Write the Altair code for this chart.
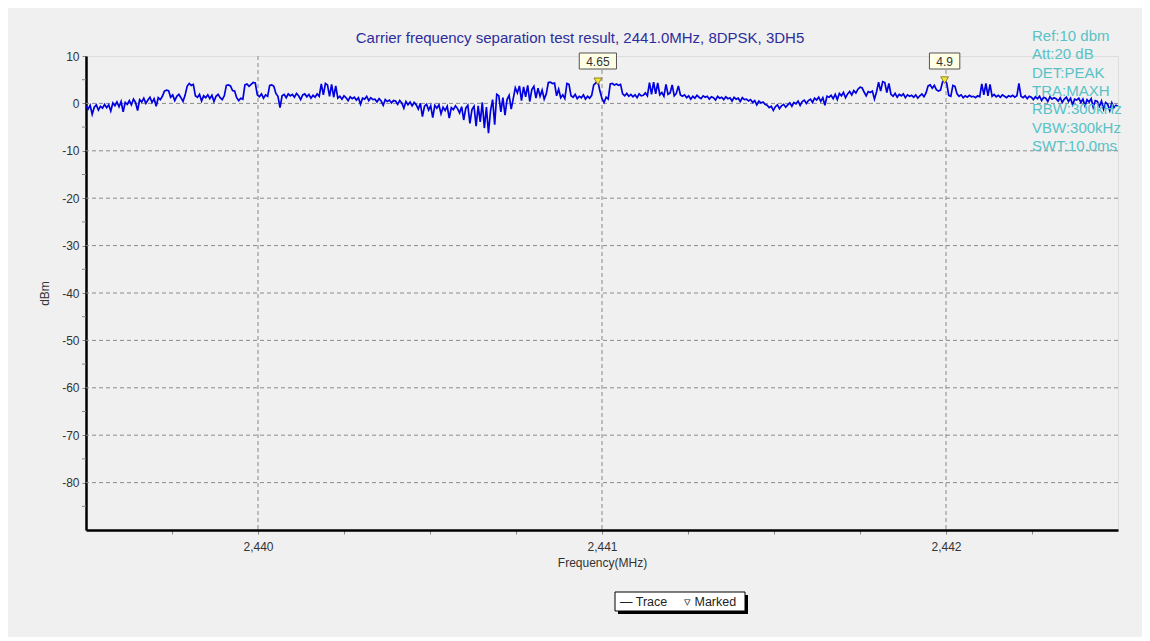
import altair as alt
import pandas as pd

# ---------------- data ----------------
TITLE = "Carrier frequency separation test result, 2441.0MHz, 8DPSK, 3DH5"
TRACE_START = 2439.5   # MHz, first sweep point
TRACE_STEP = 0.006     # MHz between sweep points

trace_dbm = [
    -0.6, -1.2, -0.4, -2.3, -0.8, -0.3, -1.4, -0.6, -1.0, -0.2,
    -0.9, -0.3, -1.6, 0.1, -0.5, 0.3, -0.7, 0.4, -1.8, 0.2,
    -0.2, 0.6, -0.3, 0.9, 0.2, -1.5, 0.8, 0.3, 1.1, 0.0,
    0.7, 1.3, 0.2, 1.0, -0.6, 1.2, 0.8, 1.5, 2.6, 2.8,
    2.7, 1.3, 1.8, 0.6, 1.5, 1.9, 1.2, 0.4, 1.7, 3.6,
    4.2, 3.8, 4.0, 1.6, 1.3, 1.9, 0.5, 1.6, 1.2, 1.8,
    1.0, 1.7, 0.4, 1.5, 1.9, 1.2, 0.8, 1.6, 3.8, 3.9,
    3.7, 2.7, 2.6, 1.2, 0.6, 1.1, 0.9, 3.9, 4.1, 3.6,
    4.0, 4.4, 4.3, 1.8, 1.4, 2.0, 1.1, 1.8, 1.5, 3.8,
    3.9, 3.6, 2.1, 1.5, -0.9, 1.6, 1.9, 1.2, 2.0, 1.6,
    1.9, 1.3, 2.1, 1.6, 0.8, 1.8, 2.0, 1.4, 1.9, 1.1,
    1.7, 1.3, 2.0, 1.5, 4.1, 1.8, 4.2, 3.9, 1.5, 4.0,
    1.3, 3.7, 1.1, 1.5, 0.9, 1.6, 1.2, 0.6, 1.4, 1.0,
    1.3, 0.7, 1.2, -0.2, 1.1, 0.9, 1.5, 0.6, 1.2, 0.8,
    0.9, 0.3, 1.0, 0.5, -0.4, 0.8, 0.4, 0.7, 0.1, 0.6,
    0.5, -0.2, 0.6, 0.1, -1.0, 0.4, -0.3, 0.3, -0.5, 0.2,
    -0.3, -1.2, 0.0, -2.8, -0.6, -0.2, -1.4, -0.5, -3.0, -0.4,
    -1.0, -0.3, -2.2, -0.8, -1.5, -0.6, -3.1, -0.9, -1.3, -0.5,
    -1.1, -2.0, -0.7, -3.5, -1.0, -0.4, -4.2, -1.3, -0.6, -4.8,
    -0.5, -3.9, 0.2, -5.2, -0.8, -6.3, -1.5, 0.8, -4.5, 1.9,
    1.6, -1.8, 1.2, -2.5, 0.8, 1.7, -1.2, 1.0, 3.3, 2.2,
    3.7, 0.6, 3.5, 1.4, 3.8, 0.4, 2.9, 3.6, 1.1, 3.2,
    1.5, 2.8, 0.9, 2.0, 4.4, 4.5, 4.2, 4.3, 1.6, 3.0,
    1.2, 1.8, 1.0, 4.2, 4.0, 1.6, 1.3, 1.9, 1.0, 1.5,
    1.2, 1.8, 0.9, 1.5, 1.1, 1.7, 3.9, 4.3, 4.65, 2.6,
    1.0, 0.2, 1.3, 0.9, 4.1, 4.2, 3.9, 4.1, 3.8, 4.0,
    2.0, 1.6, 2.1, 1.5, 1.9, 1.4, 1.8, 1.2, 2.0, 1.6,
    1.7, 2.2, 1.6, 4.4, 1.9, 4.5, 2.0, 4.3, 1.8, 2.3,
    1.5, 4.0, 1.9, 2.2, 3.9, 1.6, 2.1, 3.7, 1.8, 1.5,
    1.8, 1.2, 1.6, 0.9, 1.5, 1.1, 1.7, 1.3, 1.0, 1.6,
    1.3, 1.5, 0.9, 1.4, 1.2, 0.7, 1.5, 1.1, 1.3, 0.8,
    1.4, 1.0, 1.2, 0.5, 1.3, 0.9, 1.1, 0.4, 1.2, 0.8,
    0.9, 0.5, 0.8, 0.2, 0.6, -0.3, 0.5, 0.1, 0.3, -0.2,
    -0.4, -0.9, -0.6, -1.5, -0.7, -0.3, -1.1, -0.5, -0.2, -0.8,
    -0.3, 0.1, -0.6, 0.2, -0.1, 0.5, -0.4, 0.4, 0.7, 0.0,
    0.6, 0.9, 0.2, 1.1, 0.7, 1.3, 0.4, 1.2, -0.4, 1.5,
    1.3, 1.7, 1.0, 1.9, 0.8, 2.1, 1.6, 2.3, 1.2, 2.0,
    2.5, 1.8, 2.7, 2.2, 3.0, 3.4, 3.3, 2.4, 1.6, 2.5,
    2.3, 2.6, 0.9, 2.4, 4.5, 2.6, 4.6, 4.4, 2.3, 4.2,
    1.9, 1.5, 2.1, 1.3, 1.9, 1.6, 2.0, 1.2, 1.8, 1.5,
    1.7, 1.3, 1.8, 1.1, 1.6, 2.0, 1.4, 2.2, 3.7, 3.9,
    3.2, 3.8, 2.9, 2.6, 2.8, 4.5, 4.9, 4.3, 1.7, 1.5,
    3.8, 3.6, 2.0, 1.5, 1.8, 1.2, 1.6, 1.3, 1.7, 1.4,
    1.5, 1.2, 1.6, 1.4, 4.1, 1.8, 4.2, 1.6, 4.0, 1.5,
    1.9, 1.4, 1.7, 1.3, 1.8, 1.5, 1.2, 1.6, 1.4, 1.7,
    1.3, 1.6, 4.2, 1.5, 1.2, 1.6, 1.0, 1.5, 1.3, 0.8,
    1.4, 1.0, 1.5, 0.6, 1.3, 1.1, 0.4, 1.4, 0.9, 1.2,
    1.0, 0.5, 1.2, 0.2, 0.9, 1.3, 0.4, 1.1, -0.3, 0.9,
    0.7, 1.1, 0.2, 0.9, -0.5, 0.8, 0.3, 1.0, -0.8, 0.6,
    0.4, -0.6, 0.5, -1.2, 0.2, -0.2, -1.5, 0.1, -0.9, -0.4,
    -0.6,
]

marker_freq = [2440.988, 2441.996]
marker_dbm = [4.65, 4.9]
marker_label = ["4.65", "4.9"]

x_grid = [2440, 2441, 2442]
y_grid = [0, -10, -20, -30, -40, -50, -60, -70, -80]
x_ticks = [2439.75, 2440, 2440.25, 2440.5, 2440.75, 2441, 2441.25,
           2441.5, 2441.75, 2442, 2442.25]
y_labels = [10, 0, -10, -20, -30, -40, -50, -60, -70, -80]
y_minor = [5, -5, -15, -25, -35, -45, -55, -65, -75, -85]

info_lines = ["Ref:10 dbm", "Att:20 dB", "DET:PEAK", "TRA:MAXH",
              "RBW:300kHz", "VBW:300kHz", "SWT:10.0ms"]
legend_trace = "\u2014 Trace"
legend_marked = "\u25bf Marked"

# ---------------- layout ----------------
W, H = 1032, 474
FONT = "Liberation Sans"
PX_PER_MHZ = W / 3.0
XT = "Frequency(MHz)"
YT = "dBm"

xscale = alt.Scale(domain=[2439.5, 2442.5], nice=False, zero=False)
yscale = alt.Scale(domain=[-90, 10], nice=False, zero=False)

trace_df = pd.DataFrame({
    "f": [TRACE_START + i * TRACE_STEP for i in range(len(trace_dbm))],
    "dbm": trace_dbm,
})
marker_df = pd.DataFrame({"f": marker_freq, "dbm": marker_dbm, "label": marker_label})
one = pd.DataFrame({"k": [0]})

x_axis = alt.Axis(
    values=x_ticks,
    labelExpr="datum.value % 1 == 0 ? format(datum.value, ',') : ''",
    title=XT, grid=False,
    domainColor="black", domainWidth=2.5,
    tickColor="#888", tickSize=4, tickWidth=1,
    labelFontSize=12, labelColor="#333", labelPadding=7,
    labelOverlap=False, labelFlush=False,
    titleFontSize=12, titleFontWeight="normal", titleColor="#333", titlePadding=5,
)
y_axis = alt.Axis(
    values=y_labels, format="d",
    title=YT, grid=False,
    domainColor="black", domainWidth=2.5,
    tickColor="#888", tickSize=4, tickWidth=1,
    labelFontSize=12, labelColor="#333", labelPadding=3,
    labelOverlap=False, labelFlush=False,
    titleFontSize=12, titleFontWeight="normal", titleColor="#333", titlePadding=10,
)

grid_v = alt.Chart(pd.DataFrame({"f": x_grid})).mark_rule(
    color="#8a8a8a", strokeDash=[4, 3], strokeWidth=1
).encode(x=alt.X("f:Q", scale=xscale, axis=x_axis, title=XT))

grid_h = alt.Chart(pd.DataFrame({"dbm": y_grid})).mark_rule(
    color="#8a8a8a", strokeDash=[4, 3], strokeWidth=1
).encode(y=alt.Y("dbm:Q", scale=yscale, axis=y_axis, title=YT))

minor_y = alt.Chart(pd.DataFrame({"dbm": y_minor})).mark_rule(
    color="#888", strokeWidth=1
).encode(y=alt.Y("dbm:Q", scale=yscale, title=YT), x=alt.value(-4), x2=alt.value(0))

trace = alt.Chart(trace_df).mark_line(color="#0000e0", strokeWidth=1.7).encode(
    x=alt.X("f:Q", scale=xscale, title=XT),
    y=alt.Y("dbm:Q", scale=yscale, title=YT),
)

title_mark = alt.Chart(one).mark_text(
    align="center", baseline="middle", font=FONT, fontSize=15, color="#2c2c9c",
).encode(x=alt.value(494), y=alt.value(-18), text=alt.value(TITLE))

info = alt.Chart(one).mark_text(
    align="left", baseline="middle", font=FONT, fontSize=15,
    lineHeight=18.3, color="#58c2c6",
).encode(x=alt.value(946), y=alt.value(-20), text=alt.value(info_lines))

markers = alt.Chart(marker_df).mark_point(
    shape="triangle-down", filled=True, fill="#f3e33c", stroke="#7a6a00",
    strokeWidth=0.8, size=60, opacity=1,
).encode(x=alt.X("f:Q", scale=xscale, title=XT), y=alt.Y("dbm:Q", scale=yscale, title=YT))

marker_box = alt.Chart(marker_df).transform_calculate(
    lo="datum.f - (length(datum.label) * 3.4 + 5) / %f" % PX_PER_MHZ,
    hi="datum.f + (length(datum.label) * 3.4 + 5) / %f" % PX_PER_MHZ,
).mark_rect(fill="#ffffe6", stroke="#555", strokeWidth=1).encode(
    x=alt.X("lo:Q", scale=xscale, title=XT), x2="hi:Q",
    y=alt.value(-3), y2=alt.value(13),
)

marker_text = alt.Chart(marker_df).mark_text(
    font=FONT, fontSize=12, color="#333", baseline="middle", align="center",
).encode(x=alt.X("f:Q", scale=xscale, title=XT), y=alt.value(5.5), text="label:N")

legend_shadow = alt.Chart(one).mark_rect(fill="black").encode(
    x=alt.value(532), x2=alt.value(662), y=alt.value(539), y2=alt.value(558))
legend_box = alt.Chart(one).mark_rect(fill="white", stroke="black", strokeWidth=1).encode(
    x=alt.value(529), x2=alt.value(659), y=alt.value(536), y2=alt.value(555))
legend_t1 = alt.Chart(one).mark_text(
    align="left", baseline="middle", font=FONT, fontSize=12.5, color="#222"
).encode(x=alt.value(534), y=alt.value(546), text=alt.value(legend_trace))
legend_t2 = alt.Chart(one).mark_text(
    align="left", baseline="middle", font=FONT, fontSize=12.5, color="#222"
).encode(x=alt.value(598), y=alt.value(546), text=alt.value(legend_marked))

chart = alt.layer(
    grid_v, grid_h, minor_y, trace, title_mark, info, markers, marker_box, marker_text,
    legend_shadow, legend_box, legend_t1, legend_t2,
).properties(
    width=W, height=H,
    autosize=alt.AutoSizeParams(type="none"),
    padding={"left": 78, "top": 48, "right": 24, "bottom": 107},
    background="#f0f0f0",
).configure_view(fill="white", stroke=None).configure_axis(
    labelFont=FONT, titleFont=FONT
).configure(
    locale={"number": {"decimal": ".", "thousands": ",", "grouping": [3],
                       "currency": ["$", ""], "minus": "-"}}
)

chart.save("out.html", embed_options={"renderer": "svg", "actions": False})
